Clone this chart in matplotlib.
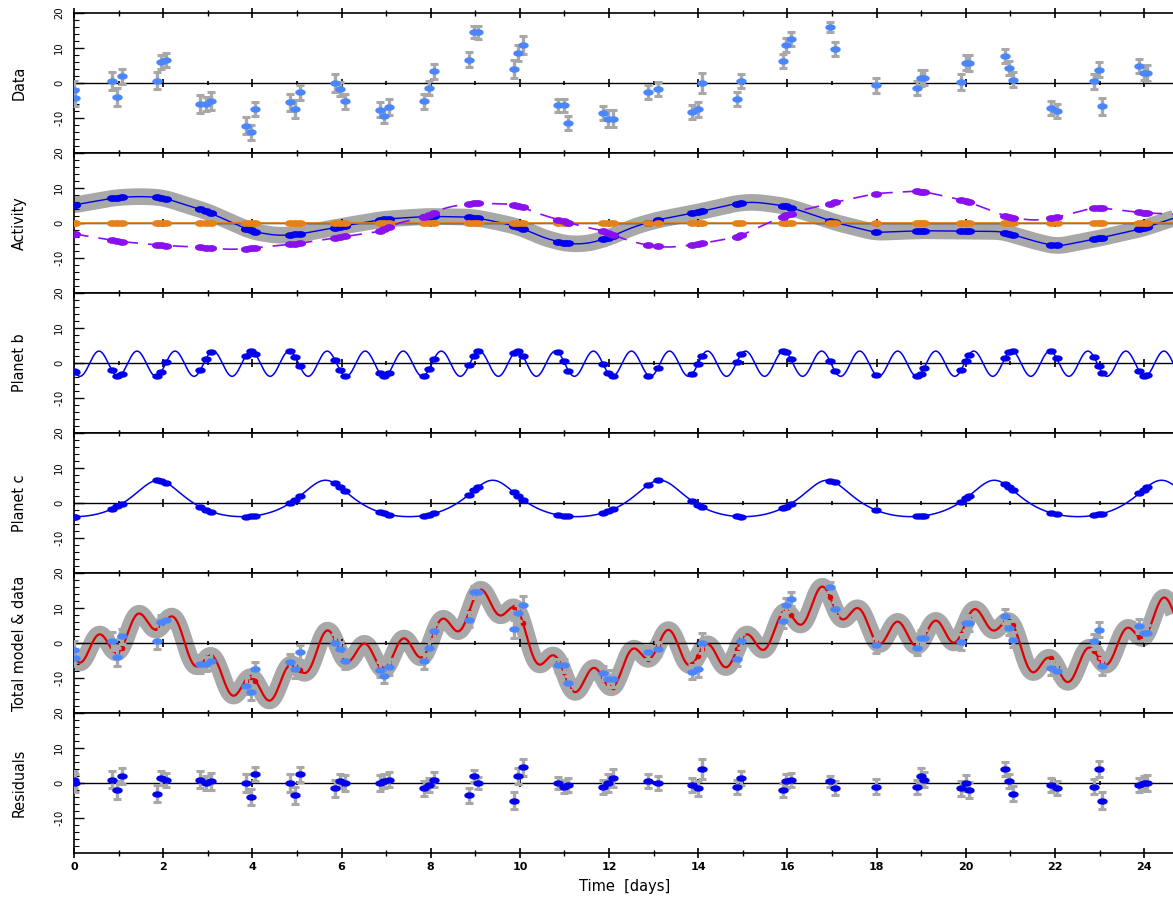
"""
Stacked RV decomposition: data, activity GP, planet b, planet c,
total model and residuals versus time.
"""
import numpy as np
import matplotlib
matplotlib.use("Agg")
import matplotlib.pyplot as plt
from matplotlib.path import Path

plt.rcParams["axes.unicode_minus"] = False

# ----------------------------------------------------------------------
# Observations
# ----------------------------------------------------------------------
T_OBS = [0.00, 0.02, 0.85, 0.97, 1.07, 1.86, 1.96, 2.07, 2.83, 2.96, 3.07,
         3.85, 3.96, 4.07, 4.85, 4.96, 5.06, 5.85, 5.96, 6.07, 6.86, 6.95,
         7.06, 7.85, 7.96, 8.07, 8.86, 8.97, 9.07, 9.86, 9.96, 10.07, 10.86,
         10.98, 11.09, 11.87, 11.97, 12.08, 12.88, 13.09, 13.86, 13.99, 14.08,
         14.87, 14.97, 15.89, 15.96, 16.07, 16.95, 17.06, 17.98, 18.90, 18.99,
         19.06, 19.89, 20.00, 20.07, 20.88, 20.97, 21.06, 21.91, 22.04, 22.88,
         22.98, 23.06, 23.89, 23.99, 24.07]
RV_DATA = [-1.9, -4.2, 0.6, -4.0, 1.9, 0.7, 6.0, 6.5, -6.0, -6.0, -5.2,
           -12.2, -14.1, -7.4, -5.5, -7.4, -2.7, 0.0, -1.8, -5.2, -7.6, -9.3,
           -6.8, -5.2, -1.5, 3.3, 6.7, 14.6, 14.5, 4.0, 8.6, 10.9, -6.4,
           -6.4, -11.4, -8.5, -10.2, -10.2, -2.7, -1.7, -8.4, -7.5, 0.0,
           -4.5, 0.6, 6.4, 11.0, 12.6, 16.0, 9.7, -0.7, -1.4, 1.4,
           1.5, 0.3, 5.8, 5.7, 7.7, 4.3, 1.0, -7.0, -8.0, 0.5,
           3.8, -6.7, 4.9, 3.0, 2.9]
RV_ERR = [2.5, 2.5, 2.5, 2.7, 2.2, 2.5, 2.0, 2.0, 2.5, 2.0, 2.5,
          2.5, 2.2, 2.0, 2.5, 2.5, 2.2, 2.5, 2.0, 2.2, 2.2, 2.0,
          2.2, 2.2, 2.0, 2.2, 2.2, 1.8, 1.8, 2.5, 2.2, 2.5, 1.8,
          1.8, 2.0, 2.0, 2.5, 2.5, 2.0, 2.0, 2.0, 2.2, 2.8,
          2.0, 2.0, 2.0, 2.0, 2.0, 1.5, 2.0, 2.2, 2.0, 2.2,
          2.2, 2.2, 2.2, 2.2, 2.0, 2.0, 2.2, 2.0, 2.0, 2.2,
          2.2, 2.5, 2.0, 2.0, 2.2]
RESID = [1.0, 0.0, 1.0, -2.0, 2.0, -3.0, 1.5, 1.0, 1.0, 0.0, 0.5,
         0.0, -4.0, 2.5, 0.0, -3.5, 2.5, -1.5, 0.5, 0.0, 0.0, 0.5,
         1.0, -1.5, -0.5, 1.0, -3.5, 2.0, 0.0, -5.0, 2.0, 4.5, 0.0,
         -1.0, -0.5, -1.0, 0.0, 1.5, 0.5, 0.0, -0.5, -1.5, 4.0,
         -1.0, 1.5, -2.0, 0.5, 1.0, 0.5, -1.5, -1.0, -1.0, 2.0,
         1.0, -1.5, 0.0, -2.0, 4.0, 0.5, -3.0, -0.5, -1.5, -1.0,
         4.0, -5.0, -0.5, 0.0, 0.0]

# ----------------------------------------------------------------------
# Activity components (GP mean and derivative term)
# ----------------------------------------------------------------------
ACT_T = [-0.1, 0.02, 0.96, 1.48, 1.98, 2.98, 3.99, 4.55, 5.0, 5.98, 6.95,
         7.33, 7.93, 8.9, 9.27, 9.95, 10.55, 11.07, 11.52, 11.97, 12.57,
         13.09, 13.99, 14.89, 15.27, 15.94, 16.31, 17.06, 17.96, 19.01,
         20.06, 20.81, 21.48, 22.04, 22.9, 23.96, 24.8]
ACT_V = [4.9, 5.2, 7.3, 7.6, 7.3, 3.3, -2.4, -3.6, -3.3, -1.0, 1.1,
         1.4, 1.9, 1.7, 0.9, -1.0, -4.3, -6.0, -5.9, -4.3, -1.0,
         0.9, 3.1, 5.7, 6.0, 4.9, 3.5, 0.2, -2.7, -2.2,
         -2.4, -2.4, -5.0, -6.7, -4.6, -1.6, 2.0]
DER_T = [-0.1, 0.96, 1.98, 2.98, 3.5, 3.99, 5.0, 5.98, 6.88, 7.25, 7.8,
         8.3, 8.9, 9.5, 9.9, 10.36, 10.92, 11.41, 11.86, 12.42, 12.87, 13.32,
         13.92, 14.89, 15.56, 16.09, 16.99, 17.96, 18.97, 19.98, 20.96,
         21.56, 22.04, 22.9, 23.96, 24.8]
DER_V = [-2.9, -5.2, -6.4, -7.0, -7.6, -7.2, -5.9, -4.0, -2.4, 0.0, 1.4,
         4.3, 5.7, 5.5, 5.4, 2.9, 0.7, -1.0, -2.2, -5.0, -6.4, -7.0,
         -6.2, -4.0, 0.0, 2.9, 5.7, 8.4, 9.2, 6.4, 1.6,
         0.7, 1.6, 4.5, 2.9, 2.5]

# Planet parameters
P_B, K_B, TMAX_B, OFF_B = 0.853, 3.6, 0.56, -0.2
P_C, K_C, ECC_C, TP_C = 3.75, 5.2, 0.25, 1.89

PANEL_LABELS = ["Data", "Activity", "Planet b", "Planet c",
                "Total model & data", "Residuals"]

GREY = "#a8a8a8"
LIGHTBLUE = "#4a86ff"
DARKBLUE = "#0000ee"
ORANGE = "#e8801a"
PURPLE = "#8a10f0"
RED = "#e00000"


def kepler_rv(t, period, k, ecc, tp):
    m = 2 * np.pi * (t - tp) / period
    e_anom = m.copy()
    for _ in range(40):
        e_anom = e_anom - (e_anom - ecc * np.sin(e_anom) - m) / (1 - ecc * np.cos(e_anom))
    nu = 2 * np.arctan2(np.sqrt(1 + ecc) * np.sin(e_anom / 2),
                        np.sqrt(1 - ecc) * np.cos(e_anom / 2))
    return k * (np.cos(nu) + ecc)


def smooth(y, n=25):
    pad = np.pad(y, n, mode="edge")
    ker = np.ones(2 * n + 1) / (2 * n + 1)
    return np.convolve(pad, ker, mode="same")[n:-n]


t_obs = np.array(T_OBS)
tt = np.linspace(-0.2, 24.9, 3000)

act = smooth(np.interp(tt, ACT_T, ACT_V))
der = smooth(np.interp(tt, DER_T, DER_V))
pb = K_B * np.cos(2 * np.pi * (tt - TMAX_B) / P_B) + OFF_B
pc = kepler_rv(tt, P_C, K_C, ECC_C, TP_C)
total = act + der + pb + pc

act_o = np.interp(t_obs, tt, act)
der_o = np.interp(t_obs, tt, der)
pb_o = K_B * np.cos(2 * np.pi * (t_obs - TMAX_B) / P_B) + OFF_B
pc_o = kepler_rv(t_obs, P_C, K_C, ECC_C, TP_C)
tot_o = act_o + der_o + pb_o + pc_o

# ellipse marker like the reference's flattened dots
th = np.linspace(0, 2 * np.pi, 41)
ELL = Path(np.column_stack([np.cos(th), 0.55 * np.sin(th)]))

W, H = 1173, 898
fig = plt.figure(figsize=(W / 100, H / 100), dpi=100)
left = 74 / W
top_px = 13
panel_px = 140
axes = []
for i in range(6):
    bottom = 1 - (top_px + panel_px * (i + 1)) / H
    ax = fig.add_axes([left, bottom, 1 - left + 0.002, panel_px / H])
    axes.append(ax)

NARROW = dict(family="DejaVu Sans", stretch="condensed")


def err_pts(ax, y, color, err=RV_ERR):
    ax.errorbar(t_obs, y, yerr=err, fmt="none", ecolor=GREY, elinewidth=2.4,
                capsize=3.2, capthick=2.2, zorder=3)
    ax.plot(t_obs, y, ls="none", marker=ELL, ms=6.5, color=color, zorder=4)


# Data
err_pts(axes[0], RV_DATA, LIGHTBLUE)

# Activity
ax = axes[1]
ax.plot(tt, act, color=GREY, lw=12, solid_capstyle="butt", zorder=1)
ax.plot(tt, act, color=DARKBLUE, lw=1.0, zorder=3)
ax.plot(t_obs, act_o, ls="none", marker=ELL, ms=7, color=DARKBLUE, zorder=4)
ax.plot(tt, np.zeros_like(tt), color=ORANGE, lw=1.2, zorder=3)
ax.plot(t_obs, np.zeros_like(t_obs), ls="none", marker=ELL, ms=7,
        color=ORANGE, zorder=4)
ax.plot(tt, der, color=PURPLE, lw=1.2, ls=(0, (9, 6)), zorder=3)
ax.plot(t_obs, der_o, ls="none", marker=ELL, ms=7, color=PURPLE, zorder=4)

# Planet b
ax = axes[2]
ax.plot(tt, pb, color=DARKBLUE, lw=1.1, zorder=3)
ax.plot(t_obs, pb_o, ls="none", marker=ELL, ms=6.5, color=DARKBLUE, zorder=4)

# Planet c
ax = axes[3]
ax.plot(tt, pc, color=DARKBLUE, lw=1.1, zorder=3)
ax.plot(t_obs, pc_o, ls="none", marker=ELL, ms=6.5, color=DARKBLUE, zorder=4)

# Total model & data
ax = axes[4]
ax.plot(tt, total, color=GREY, lw=12.5, solid_capstyle="butt", zorder=1)
ax.plot(tt, total, color=RED, lw=1.6, zorder=3)
ax.plot(t_obs, tot_o, ls="none", marker="o", ms=3, color=RED, zorder=3)
err_pts(ax, RV_DATA, LIGHTBLUE)

# Residuals
err_pts(axes[5], RESID, DARKBLUE)

for i, ax in enumerate(axes):
    ax.set_xlim(0, 24.7)
    ax.set_ylim(-20, 20)
    ax.axhline(0, color="black", lw=1.0, zorder=2)
    for x in range(0, 25):
        ax.plot([x], [0], marker="|", ms=6 if x % 2 == 0 else 3.5,
                mew=1.2, color="black", zorder=2)
    ax.spines["right"].set_visible(False)
    for s in ("left", "top", "bottom"):
        ax.spines[s].set_linewidth(1.2)
    ax.set_xticks(np.arange(0, 25, 2))
    ax.set_xticks(np.arange(1, 25, 2), minor=True)
    ax.set_yticks([-10, 0, 10, 20])
    ax.set_yticks(np.arange(-18, 20, 2), minor=True)
    ax.tick_params(axis="x", which="both", direction="inout", top=True,
                   bottom=True, labelbottom=(i == 5))
    ax.tick_params(axis="x", which="major", length=7, width=1.2)
    ax.tick_params(axis="x", which="minor", length=4, width=1.0)
    ax.tick_params(axis="y", which="major", direction="in", length=7,
                   width=1.0, pad=7)
    ax.tick_params(axis="y", which="minor", direction="in", length=3.5,
                   width=0.8)
    ax.set_yticklabels(["-10", "0", "10", "20"], rotation=90, va="center",
                       fontsize=8, **NARROW)
    ax.set_ylabel(PANEL_LABELS[i], fontsize=11.5, **NARROW)
    ax.yaxis.set_label_coords(-0.043, 0.5)

bx = axes[5]
for lab in bx.get_xticklabels():
    lab.set_fontsize(8)
    lab.set_fontweight("bold")
bx.tick_params(axis="x", which="major", pad=3)
bx.set_xlabel("Time  [days]", fontsize=10.5, labelpad=5)

fig.savefig("out.png", dpi=100)
plt.close(fig)
